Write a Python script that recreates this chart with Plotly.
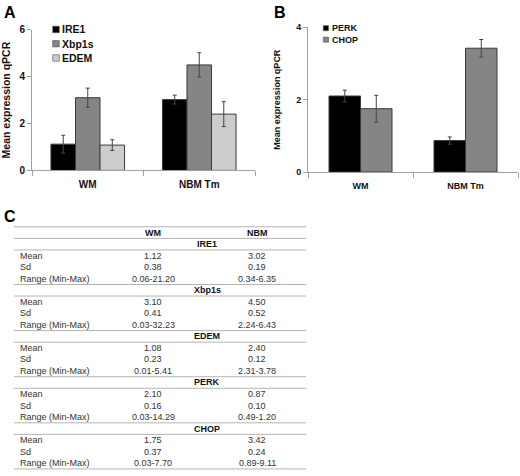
import plotly.graph_objects as go

W, H = 520, 476

categories = ["WM", "NBM Tm"]

# panel A: means and error bars
ire1_mean = [1.12, 3.02]
ire1_err = [0.38, 0.19]
xbp1s_mean = [3.10, 4.50]
xbp1s_err = [0.41, 0.52]
edem_mean = [1.08, 2.40]
edem_err = [0.23, 0.53]

# panel B
perk_mean = [2.10, 0.87]
perk_err = [0.16, 0.10]
chop_mean = [1.75, 3.42]
chop_err = [0.37, 0.24]

# panel C: summary table
table_cols = ["WM", "NBM"]
table_genes = ["IRE1", "Xbp1s", "EDEM", "PERK", "CHOP"]
row_names = ["Mean", "Sd", "Range (Min-Max)"]
wm_mean = [1.12, 3.10, 1.08, 2.10, 1.75]
wm_sd = [0.38, 0.41, 0.23, 0.16, 0.37]
wm_range = ["0.06-21.20", "0.03-32.23", "0.01-5.41", "0.03-14.29", "0.03-7.70"]
nbm_mean = [3.02, 4.50, 2.40, 0.87, 3.42]
nbm_sd = [0.19, 0.52, 0.12, 0.10, 0.24]
nbm_range = ["0.34-6.35", "2.24-6.43", "2.31-3.78", "0.49-1.20", "0.89-9.11"]


def px(x):
    return x / W


def py(y):
    return 1 - y / H


FONT = "Arial, Liberation Sans, sans-serif"
EDGE = "#3a3a3a"
AXIS = "#a0a0a0"
BLACK, GREY, LIGHT = "#000000", "#858585", "#cccccc"


def bar(x_axis, y_axis, name, y, err, color, width, offset):
    return go.Bar(
        x=categories, y=y, name=name,
        width=width, offset=offset, showlegend=False,
        marker=dict(color=color, line=dict(color=EDGE, width=1)),
        error_y=dict(type="data", array=err, color="#444", thickness=1, width=2),
        xaxis=x_axis, yaxis=y_axis,
    )


fig = go.Figure()

wa = 0.22
fig.add_trace(bar("x", "y", "IRE1", ire1_mean, ire1_err, BLACK, wa, -1.5 * wa))
fig.add_trace(bar("x", "y", "Xbp1s", xbp1s_mean, xbp1s_err, GREY, wa, -0.5 * wa))
fig.add_trace(bar("x", "y", "EDEM", edem_mean, edem_err, LIGHT, wa, 0.5 * wa))

wb = 0.30
fig.add_trace(bar("x2", "y2", "PERK", perk_mean, perk_err, BLACK, wb, -wb))
fig.add_trace(bar("x2", "y2", "CHOP", chop_mean, chop_err, GREY, wb, 0))


def xax(domain, anchor, size):
    return dict(
        domain=domain, anchor=anchor, type="category",
        showline=True, linecolor=AXIS, linewidth=1,
        ticks="outside", tickson="boundaries", ticklen=5, tickcolor=AXIS,
        tickfont=dict(family=FONT, size=size, color="#111", weight="bold"),
        ticklabelstandoff=5, showgrid=False,
    )


def yax(domain, anchor, rng, size, tsize, standoff):
    return dict(
        domain=domain, anchor=anchor, range=rng, dtick=2,
        showline=True, linecolor=AXIS, linewidth=1,
        ticks="outside", ticklen=4, tickcolor=AXIS,
        tickfont=dict(family=FONT, size=size, color="#111", weight="bold"),
        showgrid=False, zeroline=False,
        title=dict(text="Mean expression qPCR", standoff=standoff,
                   font=dict(family=FONT, size=tsize, color="#111", weight="bold")),
    )


fig.update_layout(
    width=W, height=H,
    margin=dict(l=0, r=0, t=0, b=0),
    paper_bgcolor="white", plot_bgcolor="white",
    barmode="overlay",
    xaxis=xax([px(32), px(255)], "y", 10),
    yaxis=yax([py(168.3), py(24.3)], "x", [0, 6], 10, 10.5, 6),
    xaxis2=xax([px(308), px(518)], "y2", 9),
    yaxis2=yax([py(170), py(21.7)], "x2", [0, 4], 9, 9, 14),
)


def note(text, x, y, font, anchor="center"):
    fig.add_annotation(text=text, x=px(x), y=py(y), xref="paper", yref="paper",
                       xanchor=anchor, yanchor="middle", showarrow=False, font=font)


# small square legends, drawn by hand to keep the tight spacing
def legend(items, x0, y0, step, size, fsize):
    for k, (name, color) in enumerate(items):
        yc = y0 + k * step
        fig.add_shape(type="rect", xref="paper", yref="paper",
                      x0=px(x0), x1=px(x0 + size), y0=py(yc - size / 2), y1=py(yc + size / 2),
                      fillcolor=color, line=dict(color="#555", width=0.6))
        note(name, x0 + size + 1, yc, dict(family=FONT, size=fsize, color="#111", weight="bold"),
             anchor="left")


legend([("IRE1", BLACK), ("Xbp1s", GREY), ("EDEM", LIGHT)], 52.7, 24, 14.6, 6.6, 10.5)
legend([("PERK", BLACK), ("CHOP", GREY)], 323.3, 22.7, 11.7, 5.2, 9)

# panel letters
for letter, lx, ly in [("A", 2, 7), ("B", 272, 7), ("C", 2, 215)]:
    note(letter, lx, ly, dict(family=FONT, size=16, color="#000", weight="bold"), anchor="left")

# table
t_left, t_right = 14, 306
col_x = [153, 257]
title_x = 207
row0, step = 232, 11.8
txt = dict(family=FONT, size=9, color="#333")
bold = dict(family=FONT, size=9, color="#111", weight="bold")


def hline(y, width=1):
    fig.add_shape(type="line", xref="paper", yref="paper",
                  x0=px(t_left), x1=px(t_right), y0=py(y), y1=py(y),
                  line=dict(color="#b4b4b4", width=width))


hline(row0 - 6)
for name, cx in zip(table_cols, col_x):
    note(name, cx, row0, bold)
hline(row0 + step / 2)

for i, gene in enumerate(table_genes):
    ty = row0 + step * (1 + 4 * i)
    note(gene, title_x, ty, bold)
    hline(ty + step / 2)
    wm_vals = [f"{wm_mean[i]:.2f}", f"{wm_sd[i]:.2f}", wm_range[i]]
    nbm_vals = [f"{nbm_mean[i]:.2f}", f"{nbm_sd[i]:.2f}", nbm_range[i]]
    for j, rn in enumerate(row_names):
        ry = ty + step * (j + 1)
        note(rn, 18, ry, txt, anchor="left")
        note(wm_vals[j], col_x[0], ry, txt)
        note(nbm_vals[j], col_x[1], ry, txt)
    hline(ty + step * 3.5)

# the page has a default body margin; drop it so the figure sits at 0,0
fig.write_html("out.html", config={"displayModeBar": False},
               post_script="document.body.style.margin='0';")
